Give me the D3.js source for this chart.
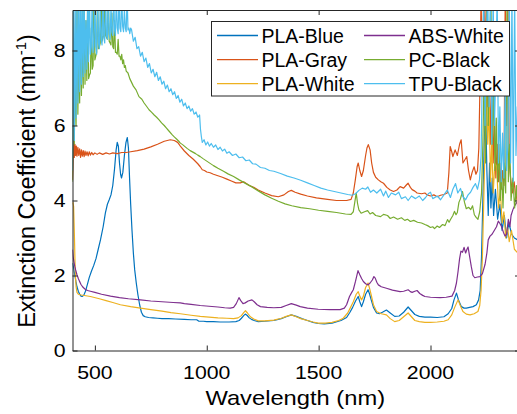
<!DOCTYPE html>
<html><head><meta charset="utf-8">
<script src="https://cdn.jsdelivr.net/npm/d3@7"></script>
<style>
body{margin:0;background:#fff}
svg{display:block}
text{font-family:"Liberation Sans",Arial,Helvetica,sans-serif;fill:#000}
</style>
</head><body>
<svg id="chart" width="517" height="414"></svg>
<script>
// ---------------- data ----------------
const seriesNames = ["PLA-Blue","PLA-Gray","PLA-White","ABS-White","PC-Black","TPU-Black"];
const seriesColors = ["#0072BD","#D95319","#EDB120","#7E2F8E","#77AC30","#4DBEEE"];
const xTicks = [500,1000,1500,2000];
const yTicks = [0,2,4,6,8];
const xLabel = "Wavelength (nm)";
const yLabel = "Extinction Coefficient (mm";

// [wavelength nm, extinction mm^-1]
const plaBlue = [[400,2.33],[405,2.2],[410,2.02],[415,1.85],[420,1.7],[426,1.58],[432,1.5],[438,1.45],[443,1.44],[450,1.47],[458,1.58],[466,1.75],[475,1.95],[485,2.12],[495,2.27],[505,2.45],[515,2.7],[525,2.95],[537,3.3],[547,3.67],[556,3.9],[564,4.02],[572,4.15],[580,4.4],[588,4.85],[595,5.35],[600,5.55],[605,5.45],[610,5.0],[615,4.7],[619,4.6],[625,4.75],[632,5.2],[639,5.55],[645,5.68],[650,5.4],[655,4.6],[660,3.9],[666,3.2],[672,2.6],[678,2.15],[685,1.8],[692,1.5],[700,1.22],[708,1.02],[716,0.93],[725,0.9],[740,0.88],[760,0.87],[780,0.86],[800,0.85],[830,0.85],[860,0.84],[900,0.83],[930,0.82],[955,0.82],[965,0.78],[985,0.78],[1000,0.77],[1030,0.77],[1060,0.76],[1100,0.76],[1130,0.77],[1145,0.8],[1155,0.86],[1165,0.93],[1172,0.97],[1180,0.94],[1190,0.87],[1200,0.83],[1212,0.8],[1230,0.77],[1260,0.78],[1300,0.8],[1333,0.85],[1355,0.9],[1378,0.95],[1400,0.91],[1425,0.85],[1450,0.8],[1475,0.75],[1498,0.72],[1525,0.71],[1560,0.73],[1600,0.8],[1625,0.88],[1640,1.02],[1652,1.15],[1665,1.32],[1677,1.44],[1684,1.3],[1692,1.17],[1700,1.3],[1710,1.5],[1721,1.62],[1728,1.5],[1735,1.35],[1745,1.15],[1759,1.0],[1772,0.98],[1785,1.02],[1803,1.08],[1820,1.0],[1840,0.91],[1860,0.92],[1880,1.02],[1900,1.16],[1912,1.08],[1930,0.96],[1950,0.91],[1975,0.89],[2000,0.89],[2030,0.88],[2060,0.9],[2079,0.98],[2095,1.12],[2105,1.35],[2116,1.53],[2125,1.35],[2138,1.17],[2150,1.13],[2160,1.13],[2175,1.15],[2190,1.17],[2205,1.22],[2215,1.35],[2222,1.6],[2228,2.5],[2234,4.0],[2240,5.5],[2246,6.5],[2252,4.8],[2258,3.6],[2264,5.0],[2270,3.8],[2276,4.6],[2282,3.6],[2290,4.3],[2300,3.5],[2310,3.9],[2320,3.2],[2330,3.6],[2340,3.0],[2350,3.4],[2363,3.1],[2375,3.0],[2390,2.95],[2400,2.9]];

const plaGray = [[400,4.55],[402,4.9],[405,5.6],[408,5.15],[411,5.5],[414,5.2],[417,5.45],[420,5.18],[424,5.42],[428,5.2],[432,5.38],[436,5.15],[440,5.35],[444,5.18],[448,5.33],[452,5.17],[456,5.32],[460,5.2],[465,5.3],[470,5.19],[475,5.3],[480,5.21],[486,5.28],[492,5.22],[500,5.27],[510,5.23],[520,5.27],[535,5.23],[550,5.27],[565,5.24],[580,5.27],[600,5.25],[620,5.28],[640,5.28],[660,5.3],[690,5.33],[720,5.37],[750,5.43],[780,5.5],[810,5.58],[837,5.62],[855,5.6],[870,5.55],[882,5.45],[900,5.32],[920,5.2],[940,5.1],[960,4.98],[971,4.9],[980,4.82],[990,4.8],[1000,4.76],[1015,4.74],[1030,4.7],[1050,4.66],[1070,4.62],[1090,4.57],[1110,4.52],[1130,4.47],[1150,4.47],[1165,4.5],[1175,4.46],[1190,4.4],[1210,4.35],[1230,4.28],[1260,4.2],[1290,4.13],[1320,4.1],[1345,4.15],[1365,4.24],[1378,4.27],[1395,4.22],[1420,4.17],[1450,4.12],[1490,4.07],[1540,4.03],[1580,4.0],[1625,4.0],[1645,4.03],[1655,4.2],[1664,4.55],[1672,4.9],[1677,5.0],[1684,4.8],[1692,4.64],[1700,4.8],[1710,5.2],[1716,5.4],[1722,5.49],[1730,5.35],[1737,5.0],[1745,4.75],[1755,4.62],[1767,4.55],[1778,4.5],[1790,4.46],[1805,4.35],[1820,4.28],[1835,4.24],[1850,4.28],[1864,4.37],[1880,4.33],[1893,4.42],[1900,4.46],[1910,4.35],[1918,4.29],[1930,4.25],[1940,4.2],[1960,4.18],[1975,4.2],[1985,4.15],[2000,4.12],[2015,4.15],[2030,4.1],[2045,4.14],[2060,4.16],[2075,4.2],[2082,4.73],[2088,5.44],[2095,5.3],[2100,5.17],[2110,5.35],[2120,5.2],[2130,5.5],[2137,5.62],[2145,5.0],[2155,5.1],[2162,5.17],[2170,4.8],[2178,4.55],[2186,4.75],[2195,4.9],[2203,4.7],[2210,4.8],[2216,5.4],[2220,6.7],[2226,9.5],[2232,7.0],[2238,9.5],[2244,8.0],[2250,9.5],[2256,6.5],[2262,8.5],[2268,5.5],[2274,7.0],[2280,5.0],[2286,6.2],[2292,4.6],[2298,5.5],[2304,4.5],[2310,5.0],[2316,4.3],[2322,4.8],[2328,4.4],[2334,9.5],[2340,6.0],[2346,9.5],[2352,5.0],[2358,4.6],[2366,4.2],[2374,4.5],[2382,4.0],[2390,4.3],[2400,4.1]];

const plaWhite = [[400,3.9],[402,3.95],[405,3.84],[407,3.4],[409,2.95],[411,2.4],[413,2.0],[416,1.7],[420,1.55],[426,1.5],[440,1.48],[460,1.46],[480,1.44],[520,1.38],[550,1.33],[580,1.28],[614,1.22],[660,1.17],[704,1.13],[750,1.09],[800,1.05],[840,1.01],[882,0.98],[930,0.94],[971,0.91],[1010,0.89],[1050,0.87],[1090,0.86],[1120,0.85],[1140,0.87],[1155,0.93],[1165,1.01],[1173,1.06],[1182,1.0],[1195,0.9],[1210,0.84],[1230,0.79],[1260,0.79],[1300,0.81],[1334,0.86],[1355,0.91],[1378,0.95],[1400,0.9],[1420,0.85],[1450,0.8],[1475,0.76],[1498,0.73],[1530,0.73],[1560,0.75],[1590,0.8],[1610,0.86],[1630,1.0],[1641,1.13],[1655,1.3],[1668,1.5],[1677,1.57],[1684,1.45],[1692,1.35],[1700,1.45],[1710,1.68],[1721,1.8],[1728,1.65],[1735,1.48],[1745,1.22],[1759,1.04],[1780,0.98],[1803,0.95],[1820,0.85],[1840,0.77],[1860,0.8],[1880,0.9],[1900,1.0],[1912,0.92],[1930,0.8],[1950,0.77],[1975,0.75],[2000,0.75],[2030,0.76],[2060,0.78],[2079,0.82],[2095,0.95],[2108,1.15],[2123,1.35],[2133,1.2],[2145,1.04],[2160,0.97],[2177,0.95],[2195,0.98],[2212,1.04],[2220,1.2],[2226,1.6],[2232,2.5],[2238,4.0],[2244,5.5],[2250,7.0],[2256,5.5],[2262,6.5],[2268,4.5],[2274,5.6],[2280,4.2],[2288,5.0],[2296,4.9],[2304,3.8],[2312,4.3],[2320,3.4],[2328,3.7],[2336,3.0],[2344,3.3],[2352,2.9],[2362,3.2],[2375,2.7],[2390,2.6],[2400,2.6]];

const absWhite = [[400,2.69],[403,2.5],[406,2.38],[410,2.25],[414,2.15],[420,2.02],[426,1.92],[431,1.85],[438,1.76],[445,1.7],[455,1.64],[467,1.6],[480,1.58],[500,1.55],[530,1.5],[570,1.45],[610,1.41],[650,1.38],[704,1.35],[750,1.32],[800,1.3],[850,1.28],[882,1.27],[900,1.25],[930,1.23],[971,1.2],[1010,1.18],[1050,1.16],[1080,1.14],[1105,1.13],[1120,1.15],[1132,1.25],[1144,1.41],[1152,1.33],[1162,1.25],[1172,1.27],[1185,1.32],[1202,1.35],[1212,1.3],[1225,1.22],[1240,1.17],[1270,1.15],[1300,1.14],[1333,1.15],[1355,1.2],[1378,1.25],[1400,1.21],[1418,1.17],[1450,1.13],[1498,1.1],[1550,1.09],[1596,1.09],[1615,1.13],[1625,1.22],[1638,1.44],[1648,1.55],[1655,1.62],[1665,1.85],[1676,2.13],[1684,2.02],[1692,1.92],[1700,1.84],[1710,1.78],[1721,1.75],[1730,1.8],[1740,1.88],[1747,1.97],[1753,1.93],[1760,1.82],[1767,1.75],[1780,1.7],[1803,1.66],[1830,1.61],[1864,1.57],[1880,1.58],[1900,1.62],[1910,1.57],[1918,1.55],[1930,1.58],[1940,1.6],[1952,1.52],[1965,1.47],[1975,1.44],[2000,1.42],[2043,1.41],[2070,1.42],[2096,1.45],[2108,1.6],[2116,1.8],[2123,2.1],[2130,2.45],[2136,2.65],[2143,2.62],[2150,2.75],[2157,2.6],[2163,2.7],[2168,2.76],[2175,2.5],[2182,2.25],[2190,2.0],[2198,1.94],[2210,1.96],[2221,1.97],[2232,2.05],[2244,2.3],[2252,2.6],[2258,2.95],[2266,3.05],[2275,3.1],[2287,3.22],[2295,3.3],[2303,3.45],[2309,3.4],[2318,3.3],[2326,3.15],[2333,3.05],[2340,3.1],[2348,3.5],[2355,3.3],[2360,3.6],[2368,3.75],[2375,3.85],[2386,3.95],[2400,4.0]];

const pcBlack = [[400,4.5],[404,9.5],[408,5.5],[412,7.5],[416,6.0],[420,9.5],[424,6.3],[428,8.0],[432,6.6],[436,9.5],[440,6.8],[444,8.5],[448,7.0],[452,9.5],[456,7.1],[460,8.8],[464,7.2],[468,9.5],[472,7.25],[476,7.35],[480,7.4],[484,8.6],[488,7.5],[492,7.6],[496,9.5],[500,7.75],[504,7.85],[508,7.95],[512,9.5],[516,8.05],[520,8.1],[524,8.2],[528,9.5],[532,8.25],[536,8.35],[540,8.4],[544,9.5],[548,8.4],[552,8.35],[556,8.3],[560,9.5],[564,8.25],[568,8.2],[572,8.15],[576,9.0],[580,8.1],[584,8.05],[588,8.8],[592,7.95],[596,7.95],[600,7.9],[604,8.3],[608,7.85],[612,7.85],[616,7.75],[620,7.9],[624,7.65],[628,7.75],[632,7.55],[636,7.6],[640,7.45],[648,7.4],[656,7.25],[664,7.15],[672,7.05],[684,6.95],[697,6.77],[710,6.7],[720,6.6],[730,6.52],[742,6.42],[754,6.35],[765,6.28],[776,6.22],[787,6.15],[798,6.07],[810,6.0],[820,5.93],[830,5.86],[846,5.75],[856,5.69],[865,5.64],[875,5.58],[882,5.53],[892,5.49],[900,5.45],[912,5.39],[926,5.33],[938,5.29],[950,5.25],[960,5.21],[971,5.17],[985,5.11],[1000,5.05],[1015,4.99],[1030,4.93],[1050,4.86],[1075,4.78],[1095,4.71],[1120,4.64],[1145,4.55],[1175,4.45],[1200,4.37],[1232,4.25],[1260,4.15],[1290,4.06],[1320,3.98],[1350,3.91],[1380,3.86],[1420,3.81],[1460,3.78],[1500,3.74],[1540,3.71],[1580,3.68],[1620,3.64],[1645,3.63],[1655,3.7],[1662,3.97],[1668,4.2],[1674,3.92],[1680,3.75],[1690,3.66],[1705,3.7],[1719,3.73],[1730,3.64],[1741,3.68],[1755,3.6],[1777,3.57],[1790,3.63],[1808,3.6],[1820,3.52],[1835,3.56],[1853,3.5],[1870,3.54],[1885,3.47],[1897,3.5],[1910,3.44],[1925,3.47],[1942,3.42],[1960,3.4],[1975,3.36],[1987,3.33],[2000,3.28],[2010,3.3],[2018,3.25],[2030,3.32],[2040,3.28],[2054,3.36],[2065,3.33],[2076,3.49],[2083,3.42],[2090,3.5],[2100,3.6],[2107,3.71],[2114,3.62],[2120,3.68],[2127,3.95],[2134,4.05],[2143,4.24],[2152,3.95],[2160,3.78],[2170,3.82],[2180,3.76],[2188,3.86],[2196,3.62],[2204,3.55],[2212,3.5],[2220,3.7],[2228,4.2],[2234,5.5],[2240,7.5],[2246,5.0],[2252,9.5],[2258,6.0],[2264,8.0],[2270,9.5],[2276,5.5],[2282,7.0],[2288,4.8],[2294,6.2],[2300,4.5],[2306,5.5],[2312,4.0],[2318,4.8],[2324,3.8],[2330,5.0],[2336,4.2],[2342,9.5],[2348,4.5],[2354,5.5],[2360,4.0],[2368,4.6],[2376,3.8],[2384,4.4],[2392,3.5],[2400,4.0]];

const tpuBlack = [[400,4.8],[404,9.5],[408,5.6],[412,9.5],[416,6.2],[420,9.5],[424,6.6],[428,9.5],[432,6.9],[436,9.5],[440,7.1],[444,9.5],[448,7.3],[452,9.5],[456,7.4],[460,8.8],[464,7.5],[468,9.5],[472,7.7],[476,9.5],[480,7.9],[484,8.1],[488,9.5],[492,7.95],[496,8.15],[500,9.5],[504,8.1],[508,7.9],[512,9.5],[516,8.2],[520,8.05],[524,9.3],[528,8.3],[532,8.15],[536,9.5],[540,8.35],[544,8.2],[548,9.5],[552,8.4],[556,8.3],[560,9.5],[564,8.45],[568,8.3],[572,9.2],[576,8.5],[580,8.4],[584,9.5],[588,8.55],[592,8.4],[596,9.5],[600,8.6],[604,8.45],[608,9.5],[612,8.6],[616,8.5],[620,9.5],[624,8.65],[628,8.5],[632,9.1],[636,8.6],[640,8.5],[644,9.5],[648,8.55],[652,8.6],[656,8.45],[660,8.6],[664,8.55],[672,8.25],[680,8.35],[688,8.05],[696,8.1],[704,7.85],[712,7.95],[720,7.7],[728,7.8],[736,7.55],[744,7.65],[752,7.4],[760,7.5],[768,7.3],[776,7.42],[784,7.2],[792,7.3],[800,7.1],[808,7.18],[816,6.98],[824,7.08],[832,6.9],[840,6.98],[848,6.82],[856,6.9],[864,6.72],[872,6.8],[880,6.62],[888,6.7],[896,6.52],[904,6.6],[912,6.45],[920,6.52],[928,6.38],[936,6.45],[944,6.3],[952,6.36],[960,6.22],[968,6.28],[972,5.9],[976,5.7],[980,5.55],[988,5.62],[996,5.48],[1004,5.56],[1012,5.45],[1020,5.52],[1030,5.42],[1040,5.48],[1050,5.36],[1060,5.42],[1070,5.32],[1080,5.37],[1090,5.26],[1100,5.3],[1115,5.2],[1130,5.24],[1145,5.14],[1160,5.16],[1175,5.06],[1190,5.08],[1205,4.98],[1220,4.97],[1240,4.88],[1260,4.86],[1280,4.8],[1300,4.78],[1330,4.72],[1360,4.65],[1390,4.6],[1420,4.54],[1450,4.47],[1480,4.4],[1510,4.33],[1540,4.28],[1570,4.24],[1600,4.2],[1630,4.16],[1650,4.14],[1665,4.18],[1680,4.27],[1695,4.33],[1710,4.3],[1720,4.36],[1732,4.22],[1745,4.28],[1760,4.2],[1777,4.3],[1790,4.12],[1800,4.25],[1812,4.08],[1825,4.2],[1844,4.15],[1858,4.22],[1870,4.05],[1888,4.1],[1900,4.0],[1915,4.12],[1933,4.05],[1950,4.12],[1965,4.0],[1978,4.08],[1990,4.18],[2000,4.22],[2010,4.05],[2031,4.12],[2045,4.02],[2060,4.15],[2075,4.28],[2089,4.08],[2100,4.3],[2112,4.45],[2122,4.2],[2134,4.32],[2145,4.1],[2157,4.02],[2168,4.15],[2179,4.22],[2190,4.35],[2201,4.45],[2210,4.3],[2219,4.55],[2226,5.2],[2232,7.5],[2238,9.5],[2244,6.0],[2250,8.5],[2256,9.5],[2262,6.5],[2268,9.5],[2274,5.5],[2280,9.5],[2286,6.0],[2292,7.5],[2298,9.5],[2304,5.0],[2310,6.5],[2316,4.5],[2322,5.8],[2328,4.6],[2334,7.2],[2340,4.8],[2346,5.5],[2352,9.5],[2358,5.0],[2364,9.5],[2370,4.5],[2376,9.5],[2382,5.2],[2388,6.5],[2394,4.2],[2400,5.0]];

const seriesData = [plaBlue, plaGray, plaWhite, absWhite, pcBlack, tpuBlack];

// ---------------- layout ----------------
const L = 72.5, R = 520, T = 10, B = 350.5;
const svg = d3.select("#chart");

const x = d3.scaleLinear().domain([400, 2400]).range([L, R]);
const y = d3.scaleLinear().domain([0, 9.08]).range([B, T]);

svg.append("defs").append("clipPath").attr("id","plotclip")
  .append("rect").attr("x", L).attr("y", T).attr("width", R - L).attr("height", B - T);

// series
const line = d3.line().x(d => x(d[0])).y(d => y(d[1]));
const gLines = svg.append("g").attr("clip-path","url(#plotclip)");
seriesData.forEach((s, i) => {
  gLines.append("path").datum(s)
    .attr("d", line)
    .attr("fill","none")
    .attr("stroke", seriesColors[i])
    .attr("stroke-width", 1.2)
    .attr("stroke-linejoin","round");
});

// axes (box with inward ticks)
const axisColor = "#262626";
function styleAxis(g){
  g.selectAll("path.domain").attr("stroke", axisColor).attr("stroke-width", 1);
  g.selectAll(".tick line").attr("stroke", axisColor).attr("stroke-width", 1);
  g.selectAll(".tick text").remove();
}
svg.append("g").attr("transform",`translate(0,${B})`)
  .call(d3.axisBottom(x).tickValues(xTicks).tickSizeInner(-5).tickSizeOuter(0)).call(styleAxis);
svg.append("g").attr("transform",`translate(0,${T})`)
  .call(d3.axisTop(x).tickValues(xTicks).tickSizeInner(-5).tickSizeOuter(0)).call(styleAxis);
svg.append("g").attr("transform",`translate(${L},0)`)
  .call(d3.axisLeft(y).tickValues(yTicks).tickSizeInner(-5).tickSizeOuter(0)).call(styleAxis);
svg.append("g").attr("transform",`translate(${R},0)`)
  .call(d3.axisRight(y).tickValues(yTicks).tickSizeInner(-5).tickSizeOuter(0)).call(styleAxis);

// tick labels
const tickFont = 19, tickStretch = 1.12;
svg.append("g").selectAll("text").data(xTicks).join("text")
  .attr("transform", d => `translate(${x(d)},379) scale(${tickStretch},1)`)
  .attr("text-anchor","middle")
  .style("font-size", tickFont + "px")
  .text(d => d);
svg.append("g").selectAll("text").data(yTicks).join("text")
  .attr("transform", d => `translate(65.5,${y(d) + 6.8}) scale(${tickStretch},1)`)
  .attr("text-anchor","end")
  .style("font-size", tickFont + "px")
  .text(d => d);

// axis labels
svg.append("text")
  .attr("transform", `translate(${(L + 517) / 2 + 0.5},405) scale(1.13,1)`)
  .attr("text-anchor","middle")
  .style("font-size","21px")
  .text(xLabel);

const yl = svg.append("text")
  .attr("transform", `translate(35,181) rotate(-90)`)
  .attr("text-anchor","middle")
  .style("font-size","23.5px");
yl.append("tspan").text(yLabel);
yl.append("tspan").attr("dy",-9).style("font-size","15px").text("-1");
yl.append("tspan").attr("dy",9).text(")");

// legend
const lg = svg.append("g");
lg.append("rect").attr("x",211.5).attr("y",21.5).attr("width",298).attr("height",74.5)
  .attr("fill","#fff").attr("stroke",axisColor).attr("stroke-width",1);
const rowY = [35.5, 59.7, 83.7];
seriesNames.forEach((name, i) => {
  const col = Math.floor(i / 3), row = i % 3;
  const x0 = col === 0 ? 217 : 364;
  lg.append("line").attr("x1", x0).attr("x2", x0 + 41)
    .attr("y1", rowY[row]).attr("y2", rowY[row])
    .attr("stroke", seriesColors[i]).attr("stroke-width", 1.3);
  lg.append("text").attr("x", x0 + 44.5).attr("y", rowY[row] + 7)
    .style("font-size","19.5px").text(name);
});
</script>
</body></html>
